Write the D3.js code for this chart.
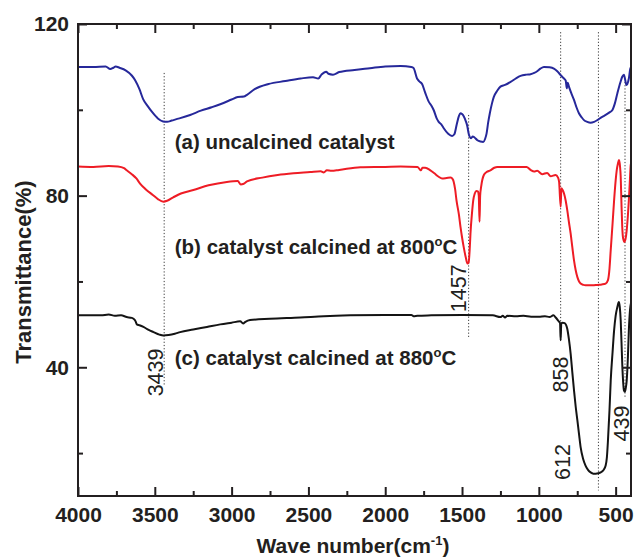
<!DOCTYPE html>
<html>
<head>
<meta charset="utf-8">
<script src="https://cdn.jsdelivr.net/npm/d3@7/dist/d3.min.js"></script>
<style>
  html, body { margin: 0; padding: 0; background: #fff; }
  svg { display: block; font-family: "Liberation Sans", Arial, Helvetica, sans-serif; }
</style>
</head>
<body>
<svg id="chart" width="634" height="558"></svg>
<script>
// FTIR spectra: wave number (cm-1) vs transmittance (%)
const xMajorTicks = [4000, 3500, 3000, 2500, 2000, 1500, 1000, 500];
const xMinorTicks = [3750, 3250, 2750, 2250, 1750, 1250, 750];
const yMajorTicks = [40, 80, 120];
const yMinorTicks = [20, 60, 100];

const seriesNames = [
  "(a) uncalcined catalyst",
  "(b) catalyst calcined at 800",
  "(c) catalyst calcined at 880"
];

// (a) uncalcined catalyst: [wave number, transmittance]
const uncalcined = [
  [4000,110.0],[3900,110.0],[3820,110.1],[3790,109.5],[3770,109.8],[3755,110.1],[3730,109.8],
  [3690,109.2],[3650,108.0],[3628,106.9],[3600,104.8],[3576,102.5],[3545,100.8],[3518,99.5],
  [3480,98.0],[3446,97.3],[3420,97.2],[3390,97.5],[3340,98.0],[3270,98.8],[3200,99.8],
  [3130,100.6],[3074,101.3],[3000,102.4],[2960,103.0],[2920,103.1],[2900,103.5],[2850,104.8],
  [2760,106.0],[2650,106.7],[2550,107.3],[2470,107.6],[2436,107.3],[2415,108.2],[2385,108.9],
  [2370,108.4],[2340,108.2],[2300,108.8],[2200,109.3],[2100,109.7],[2000,110.1],[1900,110.2],
  [1830,110.0],[1815,109.7],[1793,107.3],[1780,106.7],[1760,106.0],[1740,104.0],[1717,101.9],
  [1700,101.0],[1684,99.9],[1665,98.0],[1652,97.2],[1635,96.6],[1619,95.7],[1590,94.4],
  [1565,93.9],[1550,94.3],[1535,96.5],[1520,98.6],[1510,99.2],[1500,99.0],[1489,98.5],
  [1475,97.3],[1467,96.4],[1455,94.2],[1441,93.4],[1430,93.8],[1420,93.6],[1400,92.9],
  [1380,92.6],[1362,92.5],[1350,93.2],[1340,94.5],[1330,97.0],[1319,99.2],[1305,101.5],
  [1293,103.0],[1270,104.5],[1250,105.4],[1220,105.8],[1184,106.5],[1150,107.3],[1119,107.9],
  [1080,108.2],[1054,108.3],[1030,108.6],[1011,109.0],[990,109.6],[967,110.0],[930,109.9],
  [902,109.6],[880,109.0],[858,108.1],[845,107.6],[836,107.3],[825,106.8],[818,105.0],
  [812,106.3],[804,105.4],[790,104.0],[771,102.3],[755,100.6],[739,99.2],[720,98.2],
  [706,97.6],[685,97.2],[663,97.0],[640,97.2],[619,97.6],[590,98.3],[565,98.8],[540,99.4],
  [522,99.9],[505,101.5],[489,103.8],[470,106.3],[457,107.7],[446,108.2],[438,107.0],
  [430,105.8],[424,106.0],[414,107.3],[405,109.5],[400,110.0]
];

// (b) calcined at 800 °C
const calcined800 = [
  [4000,86.8],[3900,86.7],[3800,86.9],[3740,86.8],[3700,86.4],[3683,85.9],[3650,85.0],
  [3620,84.0],[3596,82.8],[3560,81.5],[3511,80.1],[3480,79.2],[3444,78.6],[3420,78.8],
  [3380,79.6],[3330,80.5],[3249,81.3],[3150,82.4],[3031,83.2],[2960,83.4],[2940,82.6],
  [2925,82.7],[2900,83.3],[2800,84.2],[2700,84.8],[2597,85.2],[2488,85.5],[2420,85.7],
  [2400,85.4],[2380,85.9],[2350,85.8],[2300,86.0],[2162,86.6],[2000,86.7],[1900,86.8],
  [1790,86.7],[1775,86.1],[1767,85.9],[1758,86.5],[1740,86.5],[1706,85.9],[1680,85.2],
  [1652,84.4],[1630,84.0],[1600,84.1],[1575,84.2],[1560,83.8],[1554,83.2],[1545,81.5],
  [1536,78.9],[1520,75.5],[1510,72.7],[1500,70.3],[1489,68.0],[1475,65.5],[1465,64.2],
  [1457,64.4],[1450,67.5],[1445,71.2],[1435,76.0],[1427,78.9],[1417,80.5],[1406,81.1],
  [1397,81.0],[1391,80.0],[1386,73.9],[1382,80.0],[1375,82.2],[1358,84.8],[1340,85.5],
  [1315,85.9],[1290,86.5],[1271,86.7],[1100,86.7],[1080,86.7],[1054,86.0],[1030,85.6],
  [1011,85.8],[978,85.0],[946,85.3],[923,84.5],[891,84.8],[875,84.2],[868,83.2],[858,77.4],
  [853,81.7],[845,81.3],[836,80.5],[825,78.8],[815,76.6],[804,73.8],[793,71.2],[782,68.0],
  [771,64.9],[760,62.6],[749,61.0],[738,60.0],[728,59.5],[710,59.2],[696,59.1],[650,59.1],
  [619,59.2],[590,59.3],[565,59.5],[550,60.3],[540,63.0],[532,67.3],[520,73.5],[510,78.9],
  [500,83.5],[493,85.9],[485,87.5],[478,88.3],[472,87.0],[467,84.4],[462,78.0],[457,72.7],
  [451,70.0],[442,69.2],[436,69.8],[428,71.9],[420,75.5],[414,78.9],[408,83.0],[402,87.1],
  [400,87.5]
];

// (c) calcined at 880 °C
const calcined880 = [
  [4000,52.1],[3850,52.1],[3800,52.3],[3760,52.0],[3720,52.1],[3683,51.7],[3650,51.5],
  [3639,51.3],[3625,50.7],[3617,50.0],[3600,49.8],[3574,49.4],[3540,48.7],[3509,48.2],
  [3470,47.6],[3444,47.4],[3410,47.5],[3370,47.8],[3335,48.2],[3250,48.8],[3161,49.4],
  [3074,50.0],[3000,50.4],[2944,50.7],[2925,50.2],[2910,50.6],[2880,51.0],[2750,51.3],
  [2553,51.6],[2400,51.9],[2227,52.1],[2000,52.2],[1830,52.2],[1815,51.9],[1790,52.0],
  [1700,52.1],[1500,52.2],[1300,52.1],[1250,51.7],[1235,52.0],[1220,51.6],[1205,52.0],
  [1150,51.9],[1100,52.0],[1050,51.8],[1000,51.8],[960,51.9],[930,51.7],[905,52.1],
  [890,51.6],[875,50.9],[862,50.3],[858,46.3],[854,50.2],[845,50.4],[832,50.3],[815,49.0],
  [804,46.5],[793,43.2],[782,38.8],[771,34.6],[760,30.8],[749,27.6],[738,24.3],[728,21.4],
  [712,18.7],[696,17.1],[680,16.1],[663,15.5],[645,15.2],[630,15.2],[612,15.3],[597,15.5],
  [580,16.0],[565,17.1],[557,19.0],[550,22.9],[540,30.0],[532,36.9],[520,43.5],[510,48.6],
  [500,52.0],[489,54.0],[482,55.0],[478,55.2],[473,54.0],[467,50.9],[462,46.0],[457,40.8],
  [451,36.5],[446,34.6],[440,34.3],[434,35.2],[428,36.9],[420,42.5],[414,48.6],[406,53.5],
  [400,55.0]
];

// Marked band positions and the transmittance span of each guide line
const peakWaveNumbers = [3439, 1457, 858, 612, 439];
const peakLineTop     = [108.6, 98.8, 118.1, 118.1, 106.5];
const peakLineBottom  = [35.8, 46.7, 46.3, 11.3, 32.7];

// ---- layout ----
const svg = d3.select("#chart");
const plot = { left: 78, top: 24, right: 631, bottom: 496 };

const x = d3.scaleLinear().domain([4000, 400]).range([plot.left, plot.right]);
const y = d3.scaleLinear().domain([10, 120]).range([plot.bottom, plot.top]);

const axisColor = "#231f20";
const tickFont = "bold 21px 'Liberation Sans', Arial, sans-serif";

// guide lines (dotted)
svg.append("g")
  .selectAll("line")
  .data(peakWaveNumbers)
  .join("line")
  .attr("x1", d => x(d)).attr("x2", d => x(d))
  .attr("y1", (d, i) => y(peakLineTop[i]))
  .attr("y2", (d, i) => y(peakLineBottom[i]))
  .attr("stroke", "#3a3a3a")
  .attr("stroke-width", 1)
  .attr("stroke-dasharray", "1.2,2");

// spectra
const line = d3.line()
  .x(d => x(d[0]))
  .y(d => y(d[1]))
  .curve(d3.curveMonotoneX);

const spectra = [
  { data: uncalcined,  color: "#26289a" },
  { data: calcined800, color: "#ee1c25" },
  { data: calcined880, color: "#141414" }
];

svg.append("g")
  .selectAll("path")
  .data(spectra)
  .join("path")
  .attr("d", d => line(d.data))
  .attr("fill", "none")
  .attr("stroke", d => d.color)
  .attr("stroke-width", 2)
  .attr("stroke-linejoin", "round");

// ---- axes (ticks point inward on all four sides) ----
function styleAxis(g) {
  g.select(".domain").remove();
  g.selectAll("line").attr("stroke", axisColor).attr("stroke-width", 2);
  g.selectAll("text").style("font", tickFont).attr("fill", "#231f20");
}

const fmt = d3.format("d");

// bottom
svg.append("g")
  .attr("transform", `translate(0,${plot.bottom})`)
  .call(d3.axisBottom(x).tickValues(xMajorTicks).tickFormat(fmt).tickSize(-9).tickPadding(11))
  .call(styleAxis);
svg.append("g")
  .attr("transform", `translate(0,${plot.bottom})`)
  .call(d3.axisBottom(x).tickValues(xMinorTicks).tickFormat("").tickSize(-5))
  .call(styleAxis);

// top
svg.append("g")
  .attr("transform", `translate(0,${plot.top})`)
  .call(d3.axisTop(x).tickValues(xMajorTicks).tickFormat("").tickSize(-9))
  .call(styleAxis);
svg.append("g")
  .attr("transform", `translate(0,${plot.top})`)
  .call(d3.axisTop(x).tickValues(xMinorTicks).tickFormat("").tickSize(-5))
  .call(styleAxis);

// left
svg.append("g")
  .attr("transform", `translate(${plot.left},0)`)
  .call(d3.axisLeft(y).tickValues(yMajorTicks).tickFormat(fmt).tickSize(-9).tickPadding(9))
  .call(styleAxis);
svg.append("g")
  .attr("transform", `translate(${plot.left},0)`)
  .call(d3.axisLeft(y).tickValues(yMinorTicks).tickFormat("").tickSize(-5))
  .call(styleAxis);

// right
svg.append("g")
  .attr("transform", `translate(${plot.right},0)`)
  .call(d3.axisRight(y).tickValues(yMajorTicks).tickFormat("").tickSize(-9))
  .call(styleAxis);
svg.append("g")
  .attr("transform", `translate(${plot.right},0)`)
  .call(d3.axisRight(y).tickValues(yMinorTicks).tickFormat("").tickSize(-5))
  .call(styleAxis);

// frame
svg.append("rect")
  .attr("x", plot.left).attr("y", plot.top)
  .attr("width", plot.right - plot.left)
  .attr("height", plot.bottom - plot.top)
  .attr("fill", "none")
  .attr("stroke", axisColor)
  .attr("stroke-width", 2);

// ---- axis titles ----
const xTitle = svg.append("text")
  .attr("x", 353).attr("y", 553)
  .attr("text-anchor", "middle")
  .style("font", "bold 21px 'Liberation Sans', Arial, sans-serif")
  .attr("fill", "#231f20");
xTitle.append("tspan").text("Wave number(cm");
xTitle.append("tspan").attr("dy", -8).style("font-size", "13px").text("-1");
xTitle.append("tspan").attr("dy", 8).text(")");

svg.append("text")
  .attr("transform", "translate(31,272) rotate(-90)")
  .attr("text-anchor", "middle")
  .style("font", "bold 22px 'Liberation Sans', Arial, sans-serif")
  .attr("fill", "#231f20")
  .text("Transmittance(%)");

// ---- series labels ----
const labelFont = "bold 20.5px 'Liberation Sans', Arial, sans-serif";
const labelRows = [
  { text: seriesNames[0], at: [3370, 90.8], degree: false },
  { text: seriesNames[1], at: [3370, 66.5], degree: true },
  { text: seriesNames[2], at: [3370, 40.5], degree: true }
];
labelRows.forEach(r => {
  const t = svg.append("text")
    .attr("x", x(r.at[0])).attr("y", y(r.at[1]))
    .style("font", labelFont)
    .attr("fill", "#231f20");
  t.append("tspan").text(r.text);
  if (r.degree) {
    t.append("tspan").attr("dy", -8).style("font-size", "13px").text("o");
    t.append("tspan").attr("dy", 8).text("C");
  }
});

// ---- band position labels (rotated) ----
const peakLabelOffset = [-1, -3, 7.5, -28, 4];      // baseline shift from the guide line, px
const peakLabelCenter = [38.8, 58.4, 38.3, 17.9, 26.9]; // transmittance at label centre
svg.append("g")
  .selectAll("text")
  .data(peakWaveNumbers)
  .join("text")
  .attr("transform", (d, i) =>
    `translate(${x(d) + peakLabelOffset[i]},${y(peakLabelCenter[i])}) rotate(-90)`)
  .attr("text-anchor", "middle")
  .style("font", "21.5px 'Liberation Sans', Arial, sans-serif")
  .attr("fill", "#231f20")
  .text(d => d);
</script>
</body>
</html>
